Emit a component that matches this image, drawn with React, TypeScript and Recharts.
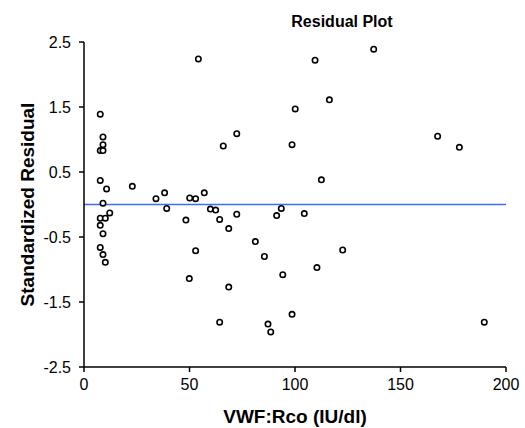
import { ReferenceLine, Scatter, ScatterChart, XAxis, YAxis } from 'recharts';

// VWF:Rco (IU/dl) and standardized residual
const vwfRco = [
  7.7, 9.0, 9.0, 7.7, 9.0, 7.7, 10.7, 9.0, 12.2, 7.7, 10.1, 7.7, 9.0, 7.7, 9.0, 10.1,
  22.9, 34.1, 38.2, 39.2, 48.3, 50.1, 52.9, 49.9, 52.9, 54.2, 57.0, 59.9, 62.4, 64.3,
  64.3, 66.0, 68.6, 68.6, 72.4, 72.4, 81.2, 85.5, 87.2, 88.5, 91.3, 93.5, 94.2, 98.6,
  98.6, 100.1, 104.4, 109.5, 110.4, 112.5, 116.3, 122.6, 137.3, 167.6, 177.9, 189.7,
];
const residuals = [
  1.39, 1.04, 0.92, 0.83, 0.83, 0.37, 0.24, 0.02, -0.13, -0.21, -0.21, -0.32, -0.45, -0.66, -0.77, -0.89,
  0.28, 0.09, 0.18, -0.06, -0.24, 0.1, 0.09, -1.14, -0.71, 2.24, 0.18, -0.07, -0.085, -0.23,
  -1.81, 0.9, -0.37, -1.27, 1.09, -0.15, -0.57, -0.8, -1.84, -1.96, -0.17, -0.06, -1.08, 0.92,
  -1.69, 1.47, -0.14, 2.22, -0.97, 0.38, 1.61, -0.7, 2.39, 1.05, 0.88, -1.81,
];
const xTicks = [0, 50, 100, 150, 200];
const yTicks = [-2.5, -1.5, -0.5, 0.5, 1.5, 2.5];

const data = vwfRco.map((x, i) => ({ x, y: residuals[i] }));

const font = '"Liberation Sans", Arial, sans-serif';
const tickStyle = { fill: '#000', fontSize: 16, fontFamily: font };

const OpenCircle = (props: any) => (
  <circle cx={props.cx} cy={props.cy} r={2.7} fill="#fff" stroke="#000" strokeWidth={1.6} />
);

export default function App() {
  return (
    <div style={{ position: 'absolute', left: 0, top: 0, width: 525, height: 428, background: '#fff' }}>
      <ScatterChart width={525} height={428} margin={{ top: 42, right: 19, bottom: 0, left: 24 }}>
        <XAxis
          type="number"
          dataKey="x"
          domain={[0, 200]}
          ticks={xTicks}
          height={61}
          stroke="#000"
          strokeWidth={1.5}
          tickSize={5}
          tickMargin={7}
          tick={tickStyle}
          label={{
            value: 'VWF:Rco (IU/dl)',
            position: 'insideBottom',
            offset: 5,
            style: { fill: '#000', fontSize: 19, fontWeight: 700, fontFamily: font },
          }}
        />
        <YAxis
          type="number"
          dataKey="y"
          domain={[-2.5, 2.5]}
          ticks={yTicks}
          width={60}
          stroke="#000"
          strokeWidth={1.5}
          tickSize={5}
          tickMargin={8}
          tick={tickStyle}
          label={{
            value: 'Standardized  Residual',
            angle: -90,
            position: 'insideLeft',
            offset: 3,
            style: { fill: '#000', fontSize: 19, fontWeight: 700, fontFamily: font, textAnchor: 'middle', whiteSpace: 'pre' },
          }}
        />
        <ReferenceLine y={0} stroke="#3d6ef0" strokeWidth={1.6} />
        <Scatter data={data} shape={OpenCircle} isAnimationActive={false} />
        <text x={342} y={27} textAnchor="middle" fontSize={16} fontWeight={700} fontFamily={font} fill="#000">
          Residual Plot
        </text>
      </ScatterChart>
    </div>
  );
}
